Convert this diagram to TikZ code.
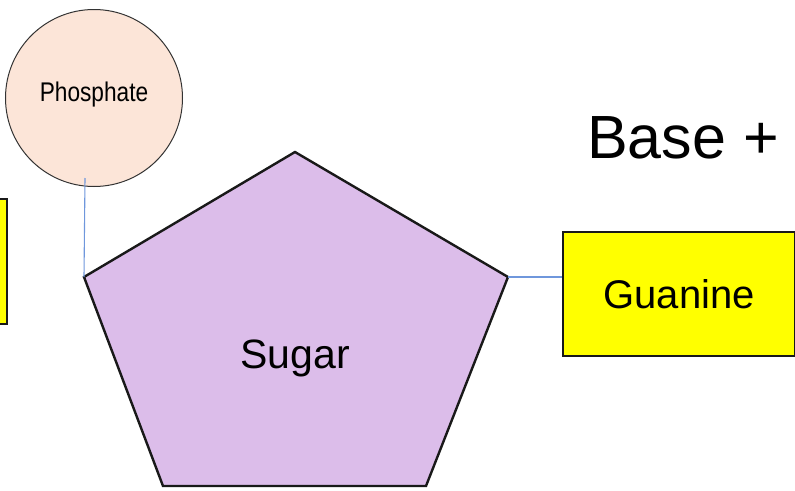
\documentclass[tikz,border=0pt]{standalone}
\usepackage{fontspec}
\setmainfont{Liberation Sans}
\newfontfamily\narrowsans[FakeStretch=0.84]{Liberation Sans}
\definecolor{phosfill}{HTML}{FCE5D8}
\definecolor{sugarfill}{HTML}{DCBDEA}
\definecolor{basefill}{HTML}{FFFF00}
\definecolor{bondblue}{HTML}{6F97DC}
\begin{document}
\begin{tikzpicture}[x=1pt,y=-1pt,
  bond/.style={draw=bondblue,line width=1.1pt},
  basebox/.style={draw=black!90,line width=2.2pt,fill=basefill,rectangle,inner sep=0pt}]
\useasboundingbox (0,0) rectangle (795,490);

% phosphate group
\node[circle,draw=black!80,line width=1pt,fill=phosfill,minimum size=177pt,inner sep=0pt]
  (phos) at (94,98) {};
\node[font=\narrowsans\fontsize{27}{27}\selectfont] (phoslabel) at (94,95) {Phosphate};

% sugar ring
\coordinate (stop) at (295,152);
\coordinate (sleft) at (84,277);
\coordinate (sright) at (508,277);
\coordinate (sbr) at (426,486);
\coordinate (sbl) at (163,486);
\draw[fill=sugarfill,draw=black!90,line width=2.4pt,line join=miter]
  (stop) -- (sright) -- (sbr) -- (sbl) -- (sleft) -- cycle;
\node[font=\fontsize{41}{41}\selectfont] (sugar) at (295,358) {Sugar};

% bases
\node[basebox,minimum width=232pt,minimum height=124pt,anchor=north west,
  font=\fontsize{40}{40}\selectfont] (guanine) at (562,231) {Guanine};
\node[basebox,minimum width=120pt,minimum height=125pt,anchor=north east] (leftbase) at (8,198) {};

\node[font=\fontsize{61}{61}\selectfont,anchor=base west,inner sep=0pt] (basetitle) at (587,158) {Base +};

% bonds
\coordinate (phosbond) at (85,178);
\draw[bond] (phosbond) -- (sleft);
\draw[bond] (sright) -- (guanine.west |- sright);
\end{tikzpicture}
\end{document}
